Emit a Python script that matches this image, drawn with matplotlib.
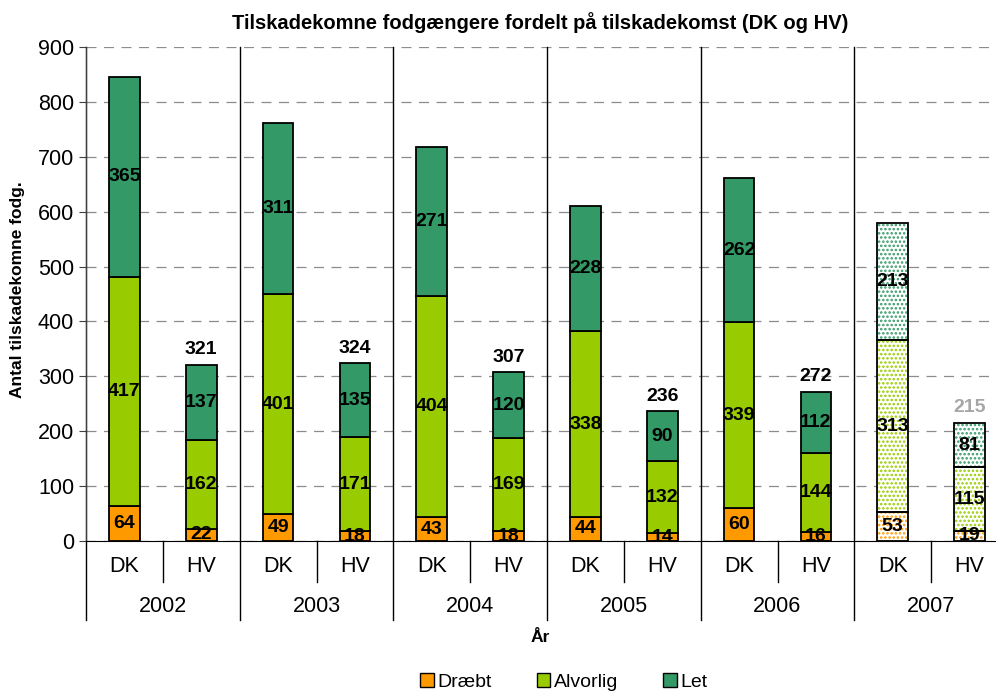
import numpy as np
import matplotlib.pyplot as plt
import matplotlib.transforms as mtransforms
from matplotlib.patches import Patch

plt.rcParams['font.family'] = ['Liberation Sans', 'DejaVu Sans']

# data
years = ['2002', '2003', '2004', '2005', '2006', '2007']
groups = ['DK', 'HV'] * 6
draebt = [64, 22, 49, 18, 43, 18, 44, 14, 60, 16, 53, 19]
alvorlig = [417, 162, 401, 171, 404, 169, 338, 132, 339, 144, 313, 115]
let = [365, 137, 311, 135, 271, 120, 228, 90, 262, 112, 213, 81]
hv_totals = [321, 324, 307, 236, 272, 215]

c_draebt = '#FF9900'
c_alvorlig = '#99CC00'
c_let = '#339966'

fig = plt.figure(figsize=(9.96, 6.93), dpi=100)
W, H = 996, 693
ax_l, ax_r, ax_t, ax_b = 86, 1008, 47, 541
ax = fig.add_axes([ax_l / W, (H - ax_b) / H, (ax_r - ax_l) / W, (ax_b - ax_t) / H])

x = np.arange(len(groups))
bw = 0.4
plt.rcParams['hatch.linewidth'] = 1.2

bottom = np.zeros(len(x))
for vals, col in [(draebt, c_draebt), (alvorlig, c_alvorlig), (let, c_let)]:
    vals = np.array(vals, dtype=float)
    for i in range(len(x)):
        if i >= 10:
            # 2007: dotted pattern
            ax.bar(x[i], vals[i], bw, bottom=bottom[i], color='white',
                   edgecolor=col, hatch='....', linewidth=0, zorder=2)
            ax.bar(x[i], vals[i], bw, bottom=bottom[i], fill=False,
                   edgecolor='black', linewidth=1.3, zorder=3)
        else:
            ax.bar(x[i], vals[i], bw, bottom=bottom[i], color=col,
                   edgecolor='black', linewidth=1.3, zorder=3)
        ax.text(x[i], bottom[i] + vals[i] / 2, str(int(vals[i])), ha='center',
                va='center', fontsize=14, fontweight='bold', zorder=4)
    bottom += vals

# totals above HV bars
for k, t in enumerate(hv_totals):
    i = 2 * k + 1
    ax.text(x[i], bottom[i] + 12, str(t), ha='center', va='bottom', fontsize=14,
            fontweight='bold', color='#A6A6A6' if k == 5 else 'black')

ax.set_xlim(-0.5, 11.5)
ax.set_ylim(0, 900)
ax.set_yticks(range(0, 901, 100))
ax.tick_params(axis='y', labelsize=15.5, length=5, direction='out', color='#404040')
ax.set_xticks([])
ax.yaxis.grid(True, color='#8C8C8C', linestyle=(0, (8, 6)), linewidth=0.9)
ax.set_axisbelow(True)
for s in ['top', 'right']:
    ax.spines[s].set_visible(False)
ax.spines['left'].set_color('#404040')
ax.spines['bottom'].set_color('black')

# category axis (two levels)
trans = mtransforms.blended_transform_factory(ax.transData, ax.transAxes)
y_bot = -(620 - ax_b) / (ax_b - ax_t)
y_mid = -(582 - ax_b) / (ax_b - ax_t)
for xs in np.arange(-0.5, 12, 2):
    ax.plot([xs, xs], [1, y_bot], color='black', lw=1, transform=trans,
            clip_on=False, zorder=1)
for xs in np.arange(0.5, 12, 2):
    ax.plot([xs, xs], [0, y_mid], color='black', lw=1, transform=trans,
            clip_on=False)
for i, g in enumerate(groups):
    ax.text(x[i], -(567 - ax_b) / (ax_b - ax_t), g, transform=trans,
            ha='center', va='center', fontsize=15.5)
for k, yr in enumerate(years):
    ax.text(2 * k + 0.5, -(606 - ax_b) / (ax_b - ax_t), yr, transform=trans,
            ha='center', va='center', fontsize=15.5)

fig.text(540 / W, 1 - 23 / H, 'Tilskadekomne fodgængere fordelt på tilskadekomst (DK og HV)',
         ha='center', va='center', fontsize=14.5, fontweight='bold')
fig.text(540 / W, 1 - 637 / H, 'År', ha='center', va='center', fontsize=12.5, fontweight='bold')
fig.text(18 / W, 1 - 290 / H, 'Antal tilskadekomne fodg.', ha='center', va='center',
         rotation=90, fontsize=12.5, fontweight='bold')

handles = [Patch(facecolor=c, edgecolor='black', linewidth=1) for c in (c_draebt, c_alvorlig, c_let)]
fig.legend(handles, ['Dræbt', 'Alvorlig', 'Let'], loc='center', ncol=3,
           bbox_to_anchor=(564 / W, 1 - 682 / H), frameon=False, fontsize=14,
           handlelength=0.7, handleheight=0.7, handletextpad=0.2, columnspacing=2.3)

fig.savefig('out.png', dpi=100)
